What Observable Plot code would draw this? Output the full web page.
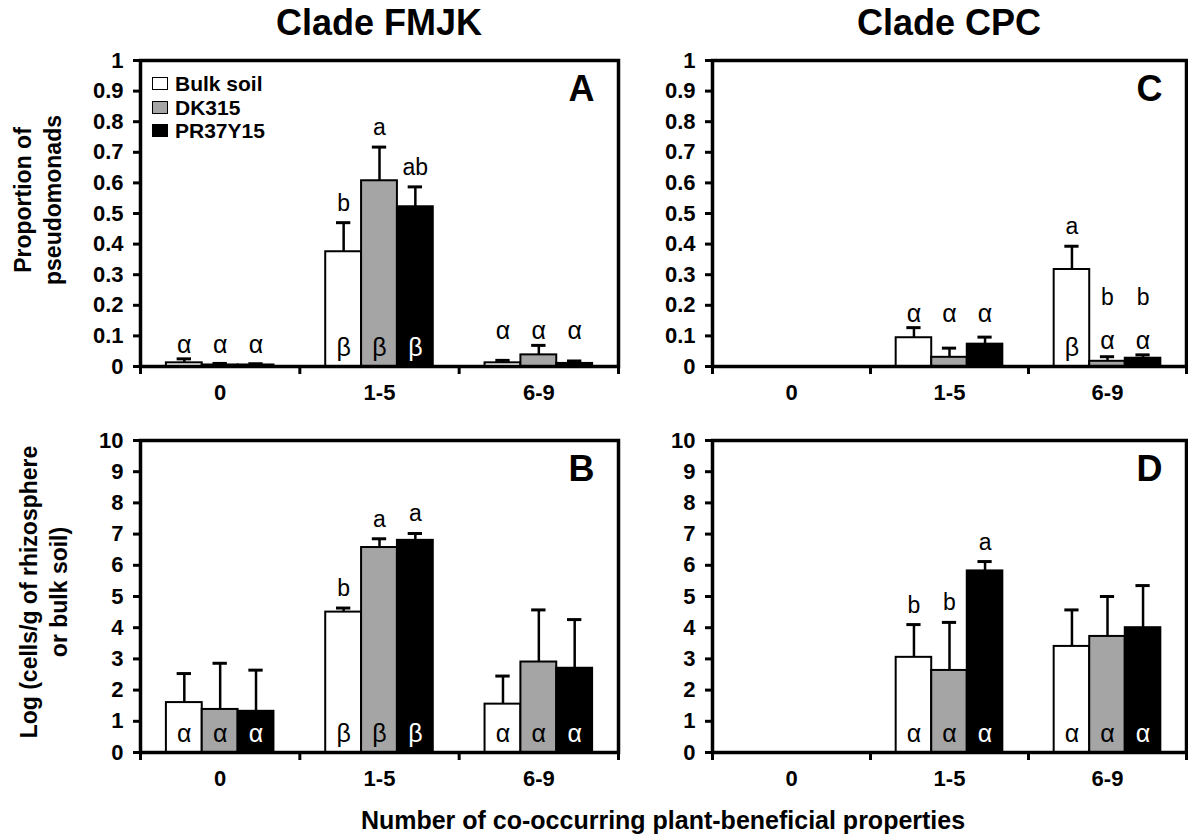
<!DOCTYPE html>
<html>
<head>
<meta charset="utf-8">
<script src="https://cdn.jsdelivr.net/npm/d3@7"></script>
<script src="https://cdn.jsdelivr.net/npm/@observablehq/plot@0.6"></script>
<style>
  body { margin: 0; background: #fff; }
  #fig { position: relative; width: 1188px; height: 839px; background: #fff; color: #000;
         font-family: "Liberation Sans", Arial, sans-serif; overflow: hidden; }
  .abs { position: absolute; }
  .title { font-weight: bold; font-size: 36px; white-space: nowrap; transform: translateX(-50%); }
  .ytitle { font-weight: bold; font-size: 23px; line-height: 30px; text-align: center; white-space: nowrap;
            transform: translate(-50%, -50%) rotate(-90deg); }
  .xtitle { font-weight: bold; font-size: 25px; white-space: nowrap; transform: translateX(-50%); }
  .legend { font-weight: bold; font-size: 21px; line-height: 23.5px; }
  .legend div { display: flex; align-items: center; height: 23.5px; }
  .legend span.sw { display: inline-block; width: 14px; height: 11px; border: 1.5px solid #000; margin-right: 7px; }
</style>
</head>
<body>
<div id="fig"></div>
<script>
// Groups of co-occurring plant-beneficial properties and the three soil types
const categories = ["0", "1-5", "6-9"];
const series = ["Bulk soil", "DK315", "PR37Y15"];

// Rows: series (Bulk soil, DK315, PR37Y15); columns: categories (0, 1-5, 6-9)
// Clade FMJK — proportion of pseudomonads
const fmjkPropMean = [[0.012, 0.375, 0.012], [0.005, 0.607, 0.038], [0.005, 0.522, 0.010]];
const fmjkPropErr  = [[0.013, 0.095, 0.008], [0.005, 0.110, 0.031], [0.004, 0.065, 0.008]];
const fmjkPropGreek = [["α", "β", "α"], ["α", "β", "α"], ["α", "β", "α"]];
const fmjkPropLatin = [["", "b", ""], ["", "a", ""], ["", "ab", ""]];

// Clade FMJK — log cells per g of rhizosphere or bulk soil
const fmjkLogMean = [[1.60, 4.50, 1.55], [1.38, 6.57, 2.90], [1.32, 6.80, 2.70]];
const fmjkLogErr  = [[0.93, 0.13, 0.90], [1.48, 0.28, 1.67], [1.32, 0.22, 1.56]];
const fmjkLogGreek = [["α", "β", "α"], ["α", "β", "α"], ["α", "β", "α"]];
const fmjkLogLatin = [["", "b", ""], ["", "a", ""], ["", "a", ""]];

// Clade CPC — proportion of pseudomonads (none in group 0)
const cpcPropMean = [[null, 0.094, 0.317], [null, 0.030, 0.017], [null, 0.073, 0.027]];
const cpcPropErr  = [[null, 0.033, 0.076], [null, 0.030, 0.015], [null, 0.023, 0.011]];
const cpcPropGreek = [["", "α", "β"], ["", "α", "α"], ["", "α", "α"]];
const cpcPropLatin = [["", "", "a"], ["", "", "b"], ["", "", "b"]];

// Clade CPC — log cells per g of rhizosphere or bulk soil
const cpcLogMean = [[null, 3.05, 3.40], [null, 2.63, 3.72], [null, 5.82, 4.00]];
const cpcLogErr  = [[null, 1.05, 1.17], [null, 1.54, 1.28], [null, 0.30, 1.35]];
const cpcLogGreek = [["", "α", "α"], ["", "α", "α"], ["", "α", "α"]];
const cpcLogLatin = [["", "b", ""], ["", "b", ""], ["", "a", ""]];

const propTicks = d3.range(0, 11).map(i => i / 10);
const logTicks = d3.range(0, 11);

// Bars within a category: outer padding then three adjacent bars
const GROUP_PAD = 0.1625, BAR_W = 0.225, CAP_HALF = 0.045;
const barLeft = d => d.ci + GROUP_PAD + d.si * BAR_W;
const barMid = d => barLeft(d) + BAR_W / 2;
const barTop = d => d.value + d.err;

function rowsOf(mean, err, greek, latin) {
  const rows = [];
  series.forEach((s, si) => categories.forEach((c, ci) => {
    if (mean[si][ci] == null) return;
    rows.push({series: s, si, category: c, ci, value: mean[si][ci], err: err[si][ci],
               greek: greek[si][ci], latin: latin[si][ci]});
  }));
  return rows;
}

const FONT = "font-family: 'Liberation Sans', Arial, sans-serif; overflow: visible; background: none; max-width: none;";

function panel({rows, ymax, ticks, format, letter, width, height, marginLeft, marginRight, marginTop, marginBottom}) {
  // Greek letters sit inside tall bars; short bars carry them above, level across the group
  const insideMin = ymax * 0.12;
  const inside = rows.filter(d => d.greek && d.value >= insideMin);
  const above = rows.filter(d => d.greek && d.value < insideMin);
  const groupTop = d3.rollup(above, v => d3.max(v, barTop), d => d.ci);
  const aboveY = d => groupTop.get(d.ci);
  const latinOwn = rows.filter(d => d.latin && !above.includes(d));
  const latinStacked = rows.filter(d => d.latin && above.includes(d));

  return Plot.plot({
    width, height, marginLeft, marginRight, marginTop, marginBottom,
    style: FONT,
    x: {domain: [0, categories.length]},
    y: {domain: [0, ymax]},
    color: {domain: series, range: ["white", "#a5a5a5", "black"]},
    marks: [
      Plot.axisY({ticks, tickFormat: format, tickSize: 7, tickPadding: 10, strokeWidth: 3,
                  fontSize: 22, fontWeight: "bold", label: null}),
      Plot.axisX({ticks: d3.range(0, categories.length + 1), tickSize: 8, strokeWidth: 3,
                  tickFormat: () => "", label: null}),
      Plot.axisX({ticks: categories.map((c, i) => i + 0.5), tickSize: 0, tickPadding: 18,
                  tickFormat: d => categories[Math.floor(d)], fontSize: 22, fontWeight: "bold", label: null}),
      Plot.rectY(rows, {x1: barLeft, x2: d => barLeft(d) + BAR_W, y: "value", fill: "series",
                        stroke: "black", strokeWidth: 2}),
      Plot.ruleX(rows, {x: barMid, y1: "value", y2: barTop, stroke: "black", strokeWidth: 2.5}),
      Plot.ruleY(rows, {y: barTop, x1: d => barMid(d) - CAP_HALF, x2: d => barMid(d) + CAP_HALF,
                        stroke: "black", strokeWidth: 3}),
      Plot.frame({stroke: "black", strokeWidth: 3.5}),
      Plot.text(inside.filter(d => d.si !== 2), {x: barMid, y: () => 0, text: "greek", dy: -11,
                lineAnchor: "bottom", fill: "black", fontSize: 25}),
      Plot.text(inside.filter(d => d.si === 2), {x: barMid, y: () => 0, text: "greek", dy: -11,
                lineAnchor: "bottom", fill: "white", fontSize: 25}),
      Plot.text(above, {x: barMid, y: aboveY, text: "greek", dy: -6, lineAnchor: "bottom",
                fill: "black", fontSize: 25}),
      Plot.text(latinOwn, {x: barMid, y: barTop, text: "latin", dy: -12, lineAnchor: "bottom",
                fill: "black", fontSize: 23}),
      Plot.text(latinStacked, {x: barMid, y: aboveY, text: "latin", dy: -50, lineAnchor: "bottom",
                fill: "black", fontSize: 23}),
      Plot.text([letter], {text: d => d, frameAnchor: "top-right", dx: -24, dy: 15, lineAnchor: "top",
                textAnchor: "end", fontSize: 36, fontWeight: "bold"})
    ]
  });
}

const fig = document.getElementById("fig");
function place(el, left, top) {
  const wrap = document.createElement("div");
  wrap.className = "abs";
  wrap.style.left = left + "px";
  wrap.style.top = top + "px";
  wrap.appendChild(el);
  fig.appendChild(wrap);
  return wrap;
}
function html(cls, text, left, top) {
  const d = document.createElement("div");
  d.className = "abs " + cls;
  d.style.left = left + "px";
  d.style.top = top + "px";
  d.innerHTML = text;
  fig.appendChild(d);
  return d;
}

const fmt1 = d => d === 0 ? "0" : d === 1 ? "1" : d.toFixed(1);
const fmt0 = d => String(d);

// Top row: proportions; bottom row: log counts
place(panel({rows: rowsOf(fmjkPropMean, fmjkPropErr, fmjkPropGreek, fmjkPropLatin), ymax: 1,
  ticks: propTicks, format: fmt1, letter: "A", width: 640, height: 420,
  marginLeft: 140, marginRight: 22, marginTop: 60, marginBottom: 54}), 0, 0);
place(panel({rows: rowsOf(cpcPropMean, cpcPropErr, cpcPropGreek, cpcPropLatin), ymax: 1,
  ticks: propTicks, format: fmt1, letter: "C", width: 616, height: 420,
  marginLeft: 140, marginRight: 2, marginTop: 60, marginBottom: 54}), 572, 0);
place(panel({rows: rowsOf(fmjkLogMean, fmjkLogErr, fmjkLogGreek, fmjkLogLatin), ymax: 10,
  ticks: logTicks, format: fmt0, letter: "B", width: 640, height: 400,
  marginLeft: 140, marginRight: 22, marginTop: 40, marginBottom: 48}), 0, 400);
place(panel({rows: rowsOf(cpcLogMean, cpcLogErr, cpcLogGreek, cpcLogLatin), ymax: 10,
  ticks: logTicks, format: fmt0, letter: "D", width: 616, height: 400,
  marginLeft: 140, marginRight: 2, marginTop: 40, marginBottom: 48}), 572, 400);

html("title", "Clade FMJK", 379, 2);
html("title", "Clade CPC", 949, 2);
html("ytitle", "Proportion of<br>pseudomonads", 38, 200);
html("ytitle", "Log (cells/g of rhizosphere<br>or bulk soil)", 44, 592);
html("xtitle", "Number of co-occurring plant-beneficial properties", 663, 806);

// Legend inside panel A
const fills = ["white", "#a5a5a5", "black"];
const legend = html("legend", "", 152, 72);
series.forEach((s, i) => {
  const row = document.createElement("div");
  row.innerHTML = `<span class="sw" style="background:${fills[i]}"></span>${s}`;
  legend.appendChild(row);
});
</script>
</body>
</html>
